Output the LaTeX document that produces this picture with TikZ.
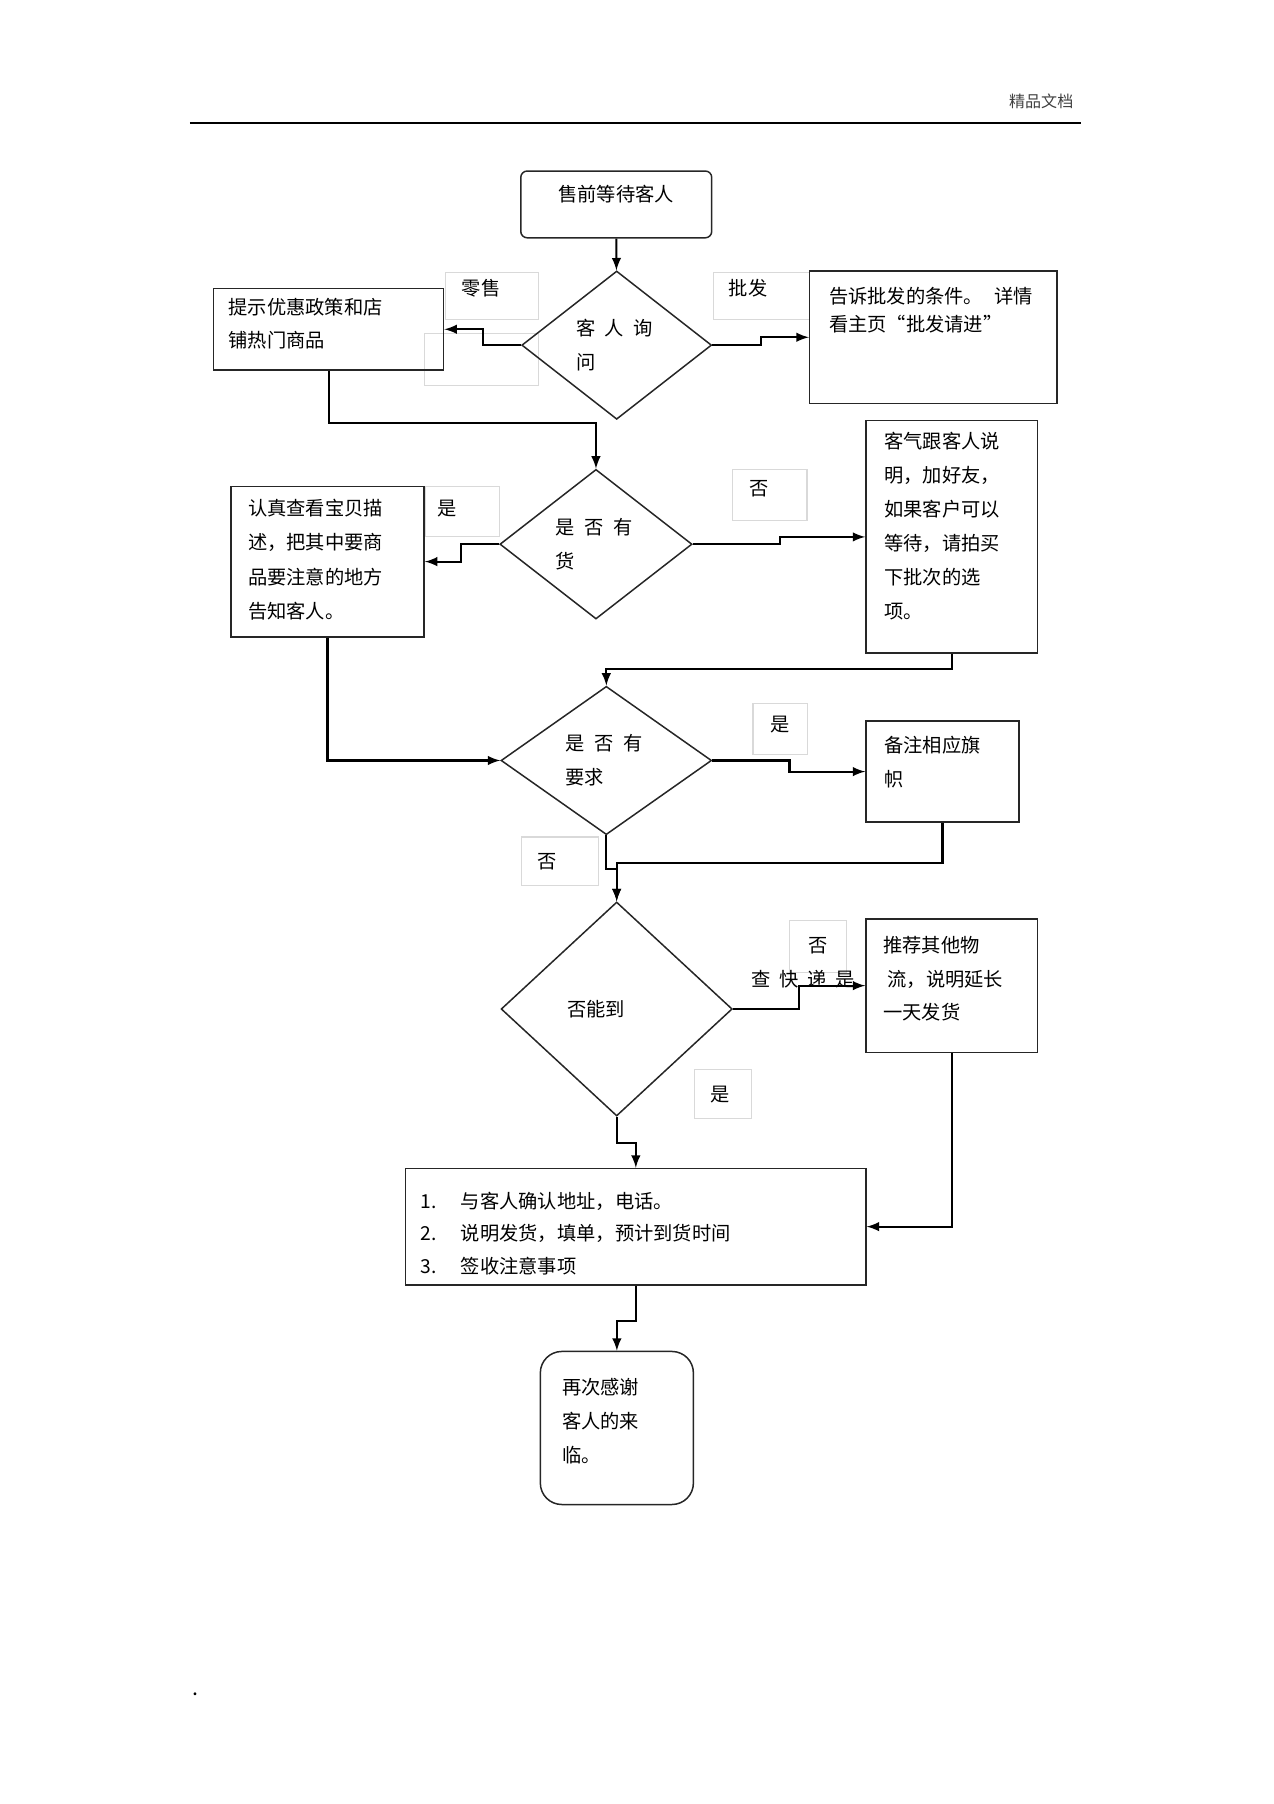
\documentclass[tikz,border=0pt]{standalone}
\usepackage{fontspec}
\setmainfont{Noto Sans CJK SC}
\usetikzlibrary{shapes.geometric}

\begin{document}
\begin{tikzpicture}[
x=0.5375pt,
y=-0.5375pt,
rect/.style={
draw=black!85,
line width=0.7pt,
anchor=north west,
align=left,
text height=8pt,
font=\fontsize{9}{15.6}\selectfont,
},
lbl/.style={
draw=black!15,
line width=0.5pt,
anchor=north west,
align=left,
text height=8pt,
font=\fontsize{9}{15.6}\selectfont,
},
dec/.style={
diamond,
draw=black!85,
line width=0.7pt,
inner sep=0pt,
align=left,
font=\fontsize{9}{16}\selectfont,
},
myedge/.style={
->,
>=latex,
line width=1pt,
},
]
\useasboundingbox (0,0) rectangle (1107,1568);

% page head
\node (head) at (905,88) {\fontsize{7.5}{9}\selectfont\color{black!75}精品文档};
\draw[line width=1.1pt] (165,107) -- (940,107);

% light frames of the text labels
\draw[draw=black!15, line width=0.5pt] (369,290) rectangle (468,335);
\node[lbl, inner xsep=7.5pt, inner ysep=3pt, text width=28.5pt, text depth=8pt] at (387,236) (l1) {零售};
\node[lbl, inner xsep=7pt, inner ysep=3pt, text width=30.6pt, text depth=8pt] at (620,236) (l2) {批发};
\node[lbl, inner xsep=5.9pt, inner ysep=5.7pt, text width=23.1pt, text depth=4.3pt] at (369,422) (l3) {是};
\node[lbl, inner xsep=8.1pt, inner ysep=4.1pt, text width=18.7pt, text depth=7.5pt] at (636,408) (l4) {否};
\node[lbl, inner xsep=8.1pt, inner ysep=5.2pt, text width=9.1pt, text depth=5.3pt] at (654,611) (l5) {是};
\node[lbl, inner xsep=7.5pt, inner ysep=6.8pt, text width=21pt, text depth=1pt] at (453,727) (l6) {否};
\node[lbl, inner xsep=8.6pt, inner ysep=6.8pt, text width=9.1pt, text depth=2.6pt] at (686,800) (l7) {否};
\node[lbl, inner xsep=7.5pt, inner ysep=6.8pt, text width=11.9pt, text depth=1.5pt] at (603,929) (l8) {是};

% boxes
\node[rect, rounded corners=3pt, align=center, inner xsep=8pt, inner ysep=6.2pt, text width=73.2pt, text depth=10.8pt] at (452,148) (1) {售前等待客人};
\node[rect, inner xsep=7pt, inner ysep=4.1pt, text width=93.5pt, text depth=22pt] at (185,250) (2) {提示优惠政策和店\\铺热门商品};
\node[rect, inner xsep=9.1pt, inner ysep=7.3pt, text width=97.4pt, text depth=39.2pt, font=\fontsize{9}{12.9}\selectfont] at (703,235) (3) {告诉批发的条件。\hspace{0.6em}详情\\看主页“批发请进”};
\node[rect, inner xsep=8.1pt, inner ysep=5.7pt, text width=74.1pt, text depth=51pt, font=\fontsize{9}{16}\selectfont] at (200,422) (4) {认真查看宝贝描\\述，把其中要商\\品要注意的地方\\告知客人。};
\node[rect, inner xsep=8.6pt, inner ysep=5.2pt, text width=62.9pt, text depth=90.2pt, font=\fontsize{9}{15.8}\selectfont] at (752,365) (5) {客气跟客人说\\明，加好友，\\如果客户可以\\等待，请拍买\\下批次的选\\项。};
\node[rect, inner xsep=8.6pt, inner ysep=6.8pt, text width=54.3pt, text depth=25.7pt] at (752,626) (6) {备注相应旗\\帜};
\node[rect, inner xsep=8.1pt, inner ysep=7.8pt, text width=63.9pt, text depth=38.8pt] at (752,798) (7) {推荐其他物\\\hspace*{2pt}流，说明延长\\一天发货};
\node[rect, inner xsep=7pt, inner ysep=10.5pt, text width=201pt, text depth=25.3pt, font=\fontsize{9}{15.3}\selectfont] at (352,1015) (8) {\makebox[18.8pt][l]{1.}与客人确认地址，电话。\\\makebox[18.8pt][l]{2.}说明发货，填单，预计到货时间\\\makebox[18.8pt][l]{3.}签收注意事项};
\node[rect, rounded corners=10pt, inner xsep=10.2pt, inner ysep=12.1pt, text width=51.1pt, text depth=39.3pt, font=\fontsize{9}{15.9}\selectfont] at (469,1174) (9) {再次感谢\\客人的来\\临。};

% decisions
\node[dec, minimum width=88.7pt, minimum height=69.3pt, text width=38pt] at (536,300) (d1) {客\hspace{.5em}人\hspace{.5em}询\\问};
\node[dec, minimum width=89.8pt, minimum height=69.9pt, text width=38pt] at (518,473) (d2) {是\hspace{.5em}否\hspace{.5em}有\\货};
\node[dec, minimum width=98.4pt, minimum height=69.3pt, text width=38pt] at (527,661) (d3) {是\hspace{.5em}否\hspace{.5em}有\\要求};
\node[dec, minimum width=108pt, minimum height=100pt, text width=46pt] at (536,877) (d4) {否能到};

\node[font=\fontsize{9}{11}\selectfont] at (698,851) (c) {查\hspace{.45em}快\hspace{.45em}递\hspace{.45em}是};

\draw[myedge] (1) -- (d1);
\draw[myedge] (d1.west) -- ++(-33,0) |- (2.east);
\draw[myedge] (d1.east) -- ++(42,0) |- (3.west);
\draw[myedge] (2.south) -- ++(0,45) -| (d2.north);
\draw[myedge] (d2.west) -- ++(-33,0) |- (4.east);
\draw[myedge] (d2.east) -- ++(76,0) |- (5.west);
\draw[myedge] (5.south) -- ++(0,13) -| (d3.north);
\draw[myedge] (4.south) |- (d3.west);
\draw[myedge] (d3.east) -- ++(67,0) |- (6.west);
\draw[myedge] (d3.south) -- ++(0,29) -| (d4.north);
\draw[myedge] (6.south) -- ++(0,35) -| (d4.north);
\draw[myedge] (d4.east) -- ++(57,0) |- (7.west);
\draw[myedge] (d4.south) -- ++(0,23) -| (8.north);
\draw[myedge] (7.south) |- (8.east);
\draw[myedge] (8.south) -- ++(0,31) -| (9.north);

\node (dot) at (170,1473) {.};
\end{tikzpicture}
\end{document}
